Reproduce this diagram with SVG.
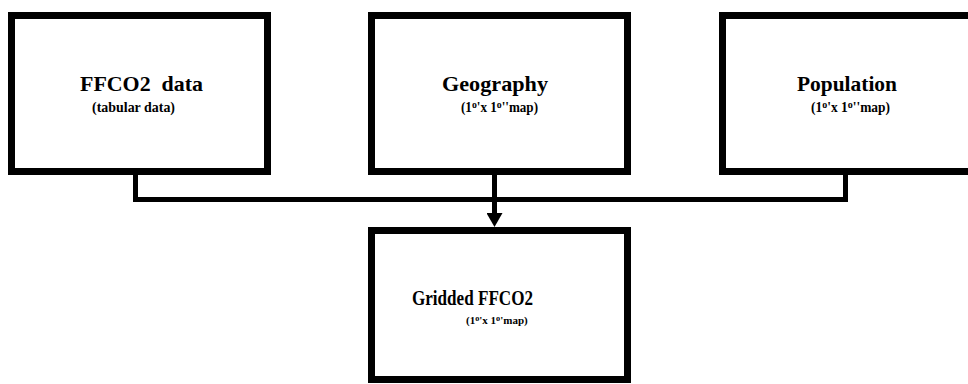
<svg xmlns="http://www.w3.org/2000/svg" width="968" height="384" viewBox="0 0 968 384">
<style>
.box{fill:#fff;stroke:#000;stroke-width:7}
.conn{fill:none;stroke:#000;stroke-width:5}
text{font-family:'Liberation Serif','DejaVu Serif','Times New Roman',serif;font-weight:bold;fill:#000}
.title{font-size:21px}
.sub{font-size:14px}
.sub2{font-size:11px}
.sup{font-size:0.75em}
</style>
<defs>
<marker id="arrow" markerUnits="userSpaceOnUse" markerWidth="14" markerHeight="16" refX="0" refY="8" orient="auto">
<path d="M0,0 L14,8 L0,16 z" fill="#000"/>
</marker>
</defs>
<rect width="968" height="384" fill="#fff"/>
<g id="connectors">
<path class="conn" d="M135.5 175 V199.5 H845.5 V175"/>
<path class="conn" d="M494.5 175 V213" marker-end="url(#arrow)"/>
</g>
<g id="ffco2-data">
<rect class="box" x="11.5" y="15.5" width="256" height="156"/>
<text class="title" font-family="Liberation Serif, serif" x="80" y="91" textLength="123" lengthAdjust="spacingAndGlyphs" xml:space="preserve">FFCO2  data</text>
<text class="sub" font-family="Liberation Serif, serif" x="92" y="112" textLength="83" lengthAdjust="spacingAndGlyphs">(tabular data)</text>
</g>
<g id="geography">
<rect class="box" x="371.5" y="15.5" width="256" height="156"/>
<text class="title" font-family="Liberation Serif, serif" x="442" y="91" textLength="106" lengthAdjust="spacingAndGlyphs">Geography</text>
<text class="sub" font-family="Liberation Serif, serif" x="461" y="112" textLength="77" lengthAdjust="spacingAndGlyphs">(1<tspan class="sup" dy="-4">o</tspan><tspan dy="4">'x 1</tspan><tspan class="sup" dy="-4">o</tspan><tspan dy="4">''map)</tspan></text>
</g>
<g id="population">
<rect class="box" x="722.5" y="15.5" width="256" height="156"/>
<text class="title" font-family="Liberation Serif, serif" x="797" y="91" textLength="100" lengthAdjust="spacingAndGlyphs">Population</text>
<text class="sub" font-family="Liberation Serif, serif" x="811" y="112" textLength="79" lengthAdjust="spacingAndGlyphs">(1<tspan class="sup" dy="-4">o</tspan><tspan dy="4">'x 1</tspan><tspan class="sup" dy="-4">o</tspan><tspan dy="4">''map)</tspan></text>
</g>
<g id="gridded-ffco2">
<rect class="box" x="371.5" y="230.5" width="256" height="149"/>
<text class="title" font-family="Liberation Serif, serif" x="412" y="305" textLength="121" lengthAdjust="spacingAndGlyphs">Gridded FFCO2</text>
<text class="sub2" font-family="Liberation Serif, serif" x="466" y="324">(1<tspan class="sup" dy="-3">o</tspan><tspan dy="3">'x 1</tspan><tspan class="sup" dy="-3">o</tspan><tspan dy="3">'map)</tspan></text>
</g>
</svg>
